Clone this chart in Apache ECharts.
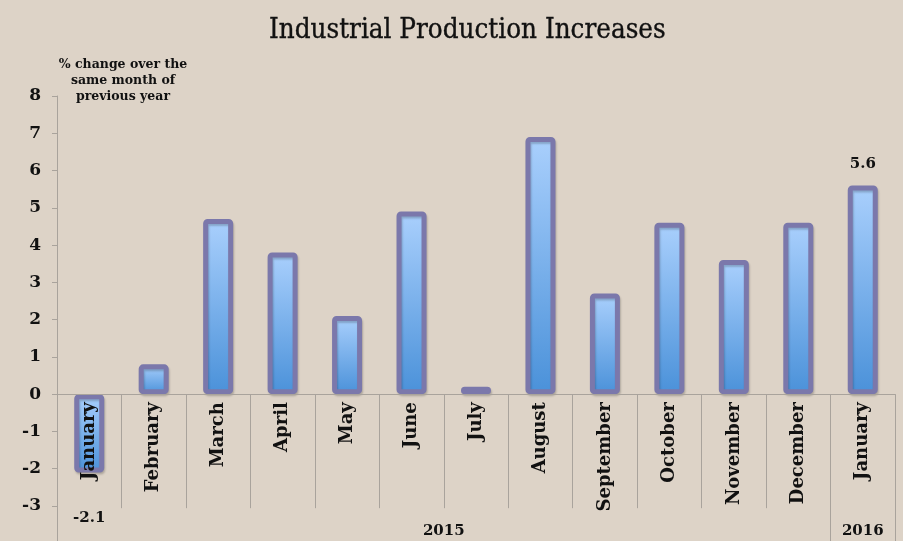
<!DOCTYPE html>
<html><head><meta charset="utf-8">
<script src="https://cdn.jsdelivr.net/npm/echarts@6/dist/echarts.min.js"></script>
<style>html,body{margin:0;padding:0;background:#ddd3c7}#c{width:903px;height:541px}</style>
</head><body><div id="c"></div>
<script>
const months = ['January','February','March','April','May','June','July','August','September','October','November','December','January'];
const values = [-2.1, 0.8, 4.7, 3.8, 2.1, 4.9, 0.2, 6.9, 2.7, 4.6, 3.6, 4.6, 5.6];
const labeledIdx = [0, 12];
const years = ['2015', '2016'];
const yearSpans = [[0, 12], [12, 13]];

const serif = '"DejaVu Serif", "Liberation Serif", serif';
const chart = echarts.init(document.getElementById('c'));
const grid = {left: 57, right: 8, top: 96, bottom: 35, outerBoundsMode: 'none', containLabel: false};
const yearMids = yearSpans.map(s => (s[0] + s[1]) / 2);
const yearBounds = [0].concat(yearSpans.map(s => s[1]));
const Y_MIN = -3, Y_MAX = 8;

function build(zeroOffset) {
  return {
    backgroundColor: '#ddd3c7',
    animation: false,
    title: {
      text: 'Industrial Production Increases',
      left: 264, top: 12,
      textStyle: {fontFamily: '"DejaVu Serif Condensed", "DejaVu Serif", serif', fontSize: 27.5, fontWeight: 'normal', color: '#111',
        textBorderColor: '#111', textBorderWidth: 0.35}
    },
    graphic: [{
      type: 'text', x: 123, y: 57,
      style: {text: '% change over the\nsame month of\nprevious year', font: 'bold 12.5px ' + serif, fill: '#111', align: 'center', verticalAlign: 'top', lineHeight: 16}
    }],
    grid: grid,
    xAxis: [{
      type: 'category', data: months, z: 5, position: 'bottom', offset: zeroOffset,
      axisLine: {onZero: false, lineStyle: {color: '#a9a39c', width: 1}},
      axisTick: {show: true, length: 114, lineStyle: {color: '#a9a39c'}},
      axisLabel: {interval: 0, rotate: 90, margin: 8, fontFamily: serif, fontWeight: 'bold', fontSize: 18, color: '#111'}
    }, {
      type: 'value', min: 0, max: 13, position: 'bottom',
      axisLine: {show: false, onZero: false}, splitLine: {show: false},
      axisTick: {show: true, length: 36, customValues: yearBounds, lineStyle: {color: '#a9a39c'}},
      axisLabel: {customValues: yearMids, margin: 18, fontFamily: serif, fontWeight: 'bold', fontSize: 15, color: '#111',
        formatter: v => years[yearMids.indexOf(v)] || ''}
    }],
    yAxis: {
      type: 'value', min: Y_MIN, max: Y_MAX, interval: 1,
      axisLine: {show: true, onZero: false, lineStyle: {color: '#a9a39c'}},
      axisTick: {show: true, length: 5, lineStyle: {color: '#a9a39c'}},
      splitLine: {show: false},
      axisLabel: {margin: 16, fontFamily: serif, fontWeight: 'bold', fontSize: 17, color: '#111'}
    },
    series: [{
      type: 'bar', xAxisIndex: 0, barWidth: 30,
      data: values.map((v, i) => labeledIdx.includes(i) ? {
        value: v,
        label: {show: true, position: v < 0 ? 'bottom' : 'top', distance: v < 0 ? 38 : 14,
          fontFamily: serif, fontWeight: 'bold', fontSize: 15, color: '#111'}
      } : v),
      itemStyle: {
        color: new echarts.graphic.LinearGradient(0, 0, 0, 1, [
          {offset: 0, color: '#aad0fd'}, {offset: 1, color: '#4a91d9'}
        ]),
        borderColor: '#7b78ab', borderWidth: 5, borderRadius: 2,
        shadowBlur: 2, shadowOffsetX: 1, shadowOffsetY: 2, shadowColor: 'rgba(0,0,0,0.2)'
      }
    }]
  };
}
chart.setOption(build(0));
const zeroY = chart.convertToPixel({yAxisIndex: 0}, 0);
const minY = chart.convertToPixel({yAxisIndex: 0}, Y_MIN);
chart.setOption(build(-(minY - zeroY)));
</script></body></html>
